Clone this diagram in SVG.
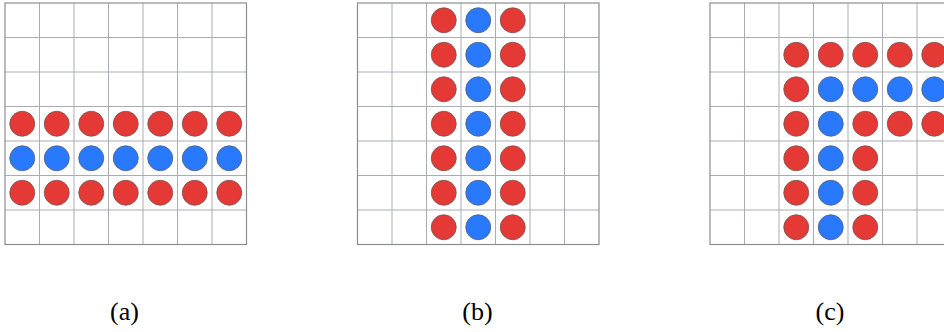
<svg xmlns="http://www.w3.org/2000/svg" width="944" height="332" viewBox="0 0 944 332">
<defs>
<style>
.grid line{stroke:#a9adb3;stroke-width:1}
.border{fill:none;stroke:#8a8d92;stroke-width:1.2}
.r{fill:#e53935;stroke:#6e5555;stroke-width:0.8}
.b{fill:#2979ff;stroke:#555d6e;stroke-width:0.8}
.lbl{font-family:"Liberation Serif","DejaVu Serif",serif;font-size:26px;fill:#000;text-anchor:middle}
</style>
<g id="gridlines" class="grid">
<line x1="34.5" y1="0" x2="34.5" y2="241.5"/>
<line x1="69" y1="0" x2="69" y2="241.5"/>
<line x1="103.5" y1="0" x2="103.5" y2="241.5"/>
<line x1="138" y1="0" x2="138" y2="241.5"/>
<line x1="172.5" y1="0" x2="172.5" y2="241.5"/>
<line x1="207" y1="0" x2="207" y2="241.5"/>
<line x1="0" y1="34.5" x2="241.5" y2="34.5"/>
<line x1="0" y1="69" x2="241.5" y2="69"/>
<line x1="0" y1="103.5" x2="241.5" y2="103.5"/>
<line x1="0" y1="138" x2="241.5" y2="138"/>
<line x1="0" y1="172.5" x2="241.5" y2="172.5"/>
<line x1="0" y1="207" x2="241.5" y2="207"/>
<rect class="border" x="0" y="0" width="241.5" height="241.5"/>
</g>
<circle id="R" class="r" r="12.5"/>
<circle id="B" class="b" r="12.5"/>
</defs>

<g id="panel-a" transform="translate(5,3)">
<rect x="0" y="0" width="241.5" height="241.5" fill="#fff"/>
<use href="#gridlines"/>
<g id="a-row3">
<use href="#R" x="17.25" y="120.75"/><use href="#R" x="51.75" y="120.75"/><use href="#R" x="86.25" y="120.75"/><use href="#R" x="120.75" y="120.75"/><use href="#R" x="155.25" y="120.75"/><use href="#R" x="189.75" y="120.75"/><use href="#R" x="224.25" y="120.75"/>
</g>
<g id="a-row4">
<use href="#B" x="17.25" y="155.25"/><use href="#B" x="51.75" y="155.25"/><use href="#B" x="86.25" y="155.25"/><use href="#B" x="120.75" y="155.25"/><use href="#B" x="155.25" y="155.25"/><use href="#B" x="189.75" y="155.25"/><use href="#B" x="224.25" y="155.25"/>
</g>
<g id="a-row5">
<use href="#R" x="17.25" y="189.75"/><use href="#R" x="51.75" y="189.75"/><use href="#R" x="86.25" y="189.75"/><use href="#R" x="120.75" y="189.75"/><use href="#R" x="155.25" y="189.75"/><use href="#R" x="189.75" y="189.75"/><use href="#R" x="224.25" y="189.75"/>
</g>
</g>
<text id="label-a" class="lbl" x="124.5" y="320">(a)</text>

<g id="panel-b" transform="translate(357.5,3)">
<rect x="0" y="0" width="241.5" height="241.5" fill="#fff"/>
<use href="#gridlines"/>
<g id="b-col2">
<use href="#R" x="86.25" y="17.25"/><use href="#R" x="86.25" y="51.75"/><use href="#R" x="86.25" y="86.25"/><use href="#R" x="86.25" y="120.75"/><use href="#R" x="86.25" y="155.25"/><use href="#R" x="86.25" y="189.75"/><use href="#R" x="86.25" y="224.25"/>
</g>
<g id="b-col3">
<use href="#B" x="120.75" y="17.25"/><use href="#B" x="120.75" y="51.75"/><use href="#B" x="120.75" y="86.25"/><use href="#B" x="120.75" y="120.75"/><use href="#B" x="120.75" y="155.25"/><use href="#B" x="120.75" y="189.75"/><use href="#B" x="120.75" y="224.25"/>
</g>
<g id="b-col4">
<use href="#R" x="155.25" y="17.25"/><use href="#R" x="155.25" y="51.75"/><use href="#R" x="155.25" y="86.25"/><use href="#R" x="155.25" y="120.75"/><use href="#R" x="155.25" y="155.25"/><use href="#R" x="155.25" y="189.75"/><use href="#R" x="155.25" y="224.25"/>
</g>
</g>
<text id="label-b" class="lbl" x="477.5" y="320">(b)</text>

<g id="panel-c" transform="translate(710,3)">
<rect x="0" y="0" width="241.5" height="241.5" fill="#fff"/>
<use href="#gridlines"/>
<g id="c-row1">
<use href="#R" x="86.25" y="51.75"/><use href="#R" x="120.75" y="51.75"/><use href="#R" x="155.25" y="51.75"/><use href="#R" x="189.75" y="51.75"/><use href="#R" x="224.25" y="51.75"/>
</g>
<g id="c-row2">
<use href="#R" x="86.25" y="86.25"/><use href="#B" x="120.75" y="86.25"/><use href="#B" x="155.25" y="86.25"/><use href="#B" x="189.75" y="86.25"/><use href="#B" x="224.25" y="86.25"/>
</g>
<g id="c-row3">
<use href="#R" x="86.25" y="120.75"/><use href="#B" x="120.75" y="120.75"/><use href="#R" x="155.25" y="120.75"/><use href="#R" x="189.75" y="120.75"/><use href="#R" x="224.25" y="120.75"/>
</g>
<g id="c-rows456">
<use href="#R" x="86.25" y="155.25"/><use href="#B" x="120.75" y="155.25"/><use href="#R" x="155.25" y="155.25"/>
<use href="#R" x="86.25" y="189.75"/><use href="#B" x="120.75" y="189.75"/><use href="#R" x="155.25" y="189.75"/>
<use href="#R" x="86.25" y="224.25"/><use href="#B" x="120.75" y="224.25"/><use href="#R" x="155.25" y="224.25"/>
</g>
</g>
<text id="label-c" class="lbl" x="830" y="320">(c)</text>
</svg>
